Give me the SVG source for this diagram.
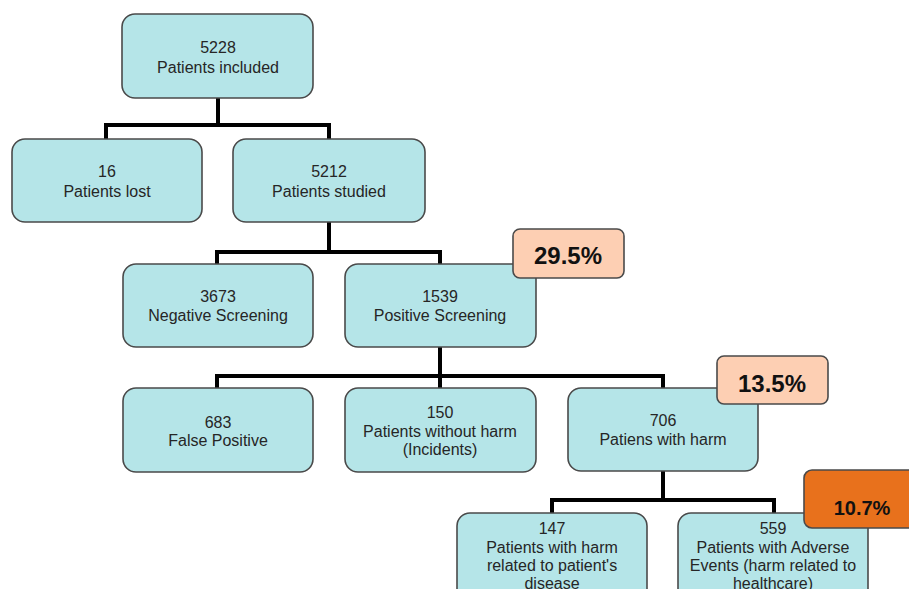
<svg xmlns="http://www.w3.org/2000/svg" width="909" height="589" viewBox="0 0 909 589">
<style>
.box{fill:#b5e5e8;stroke:#4a4a4a;stroke-width:1.6}
.pct{fill:#fdcfb3;stroke:#4a4a4a;stroke-width:1.6}
.pct2{fill:#e8711c;stroke:#4a4a4a;stroke-width:1.6}
.t{font-family:"Liberation Sans",Arial,sans-serif;font-size:16px;fill:#262626;text-anchor:middle}
.p{font-family:"Liberation Sans",Arial,sans-serif;font-size:24px;font-weight:bold;fill:#111;text-anchor:middle}
.c{fill:none;stroke:#000;stroke-width:4;stroke-linejoin:miter}
</style>
<rect width="909" height="589" fill="#fff"/>
<g id="connectors">
<path class="c" d="M218 98V125M106 139V125H329V139"/>
<path class="c" d="M329 222V252M217 264V252H440V264"/>
<path class="c" d="M440 347V376M217 388V376H663V388M440 376V388"/>
<path class="c" d="M663 471V500M552 513V500H774V513"/>
</g>
<g id="n5228"><rect class="box" x="122" y="14" width="191" height="84" rx="13"/><text class="t" x="218" y="53">5228</text><text class="t" x="218" y="73">Patients included</text></g>
<g id="n16"><rect class="box" x="12" y="139" width="190" height="83" rx="13"/><text class="t" x="107" y="177">16</text><text class="t" x="107" y="197">Patients lost</text></g>
<g id="n5212"><rect class="box" x="233" y="139" width="192" height="83" rx="13"/><text class="t" x="329" y="177">5212</text><text class="t" x="329" y="197">Patients studied</text></g>
<g id="n3673"><rect class="box" x="123" y="264" width="190" height="83" rx="13"/><text class="t" x="218" y="302">3673</text><text class="t" x="218" y="321">Negative Screening</text></g>
<g id="n1539"><rect class="box" x="345" y="264" width="191" height="83" rx="13"/><text class="t" x="440" y="302">1539</text><text class="t" x="440" y="321">Positive Screening</text></g>
<g id="p295"><rect class="pct" x="513" y="229" width="111" height="49" rx="7"/><text class="p" x="568" y="264">29.5%</text></g>
<g id="n683"><rect class="box" x="123" y="388" width="190" height="84" rx="13"/><text class="t" x="218" y="428">683</text><text class="t" x="218" y="446">False Positive</text></g>
<g id="n150"><rect class="box" x="345" y="388" width="191" height="84" rx="13"/><text class="t" x="440" y="418">150</text><text class="t" x="440" y="437">Patients without harm</text><text class="t" x="440" y="455">(Incidents)</text></g>
<g id="n706"><rect class="box" x="568" y="388" width="190" height="83" rx="13"/><text class="t" x="663" y="426">706</text><text class="t" x="663" y="445">Patiens with harm</text></g>
<g id="p135"><rect class="pct" x="717" y="356" width="111" height="48" rx="7"/><text class="p" x="772" y="392">13.5%</text></g>
<g id="n147"><rect class="box" x="457" y="513" width="190" height="100" rx="13"/><text class="t" x="552" y="534">147</text><text class="t" x="552" y="553">Patients with harm</text><text class="t" x="552" y="571">related to patient's</text><text class="t" x="552" y="589">disease</text></g>
<g id="n559"><rect class="box" x="678" y="513" width="190" height="100" rx="13"/><text class="t" x="773" y="534">559</text><text class="t" x="773" y="553">Patients with Adverse</text><text class="t" x="773" y="571">Events (harm related to</text><text class="t" x="773" y="589">healthcare)</text></g>
<g id="p107"><rect class="pct2" x="804" y="470" width="116" height="58" rx="8"/><text class="p" x="862" y="515" style="font-size:20px">10.7%</text></g>
</svg>
